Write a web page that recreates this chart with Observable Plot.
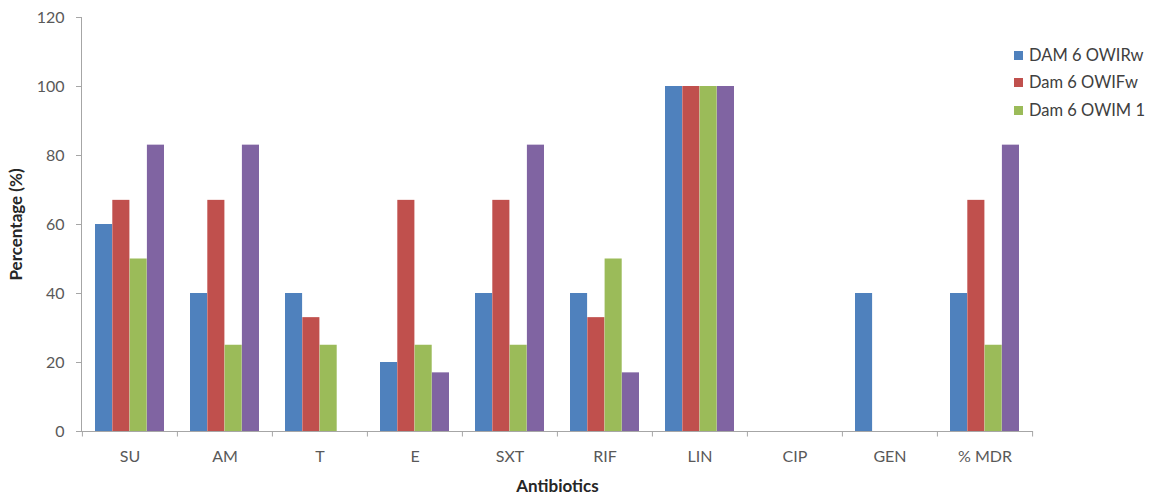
<!DOCTYPE html>
<html>
<head>
<meta charset="utf-8">
<script src="https://cdn.jsdelivr.net/npm/d3@7"></script>
<script src="https://cdn.jsdelivr.net/npm/@observablehq/plot@0.6"></script>
<style>
  html, body { margin: 0; padding: 0; background: #fff; }
  #wrap { position: relative; width: 1155px; height: 496px; font-family: Lato, "Open Sans", sans-serif; }
  #legend { position: absolute; left: 1014px; top: 45px; font-size: 16.5px; color: #404040; }
  .row { position: absolute; left: 0; white-space: nowrap; display: flex; align-items: center; height: 20px; }
  .sw { display: inline-block; width: 9px; height: 9px; margin-right: 6px; }
  svg text { font-family: Lato, "Open Sans", sans-serif; }
</style>
</head>
<body>
<div id="wrap"><div id="legend"></div></div>
<script>
const categories = ["SU", "AM", "T", "E", "SXT", "RIF", "LIN", "CIP", "GEN", "% MDR"];
const seriesNames = ["DAM 6 OWIRw", "Dam 6 OWIFw", "Dam 6 OWIM 1", "Series 4"];
const seriesColors = ["#4F81BD", "#C0504D", "#9BBB59", "#8064A2"];
const s1 = [60, 40, 40, 20, 40, 40, 100, 0, 40, 40];
const s2 = [67, 67, 33, 67, 67, 33, 100, 0, 0, 67];
const s3 = [50, 25, 25, 25, 25, 50, 100, 0, 0, 25];
const s4 = [83, 83, 0, 17, 83, 17, 100, 0, 0, 83];
const yTicks = [0, 20, 40, 60, 80, 100, 120];

const seriesValues = [s1, s2, s3, s4];
const W = 1155, H = 496, mL = 81, mR = 122, mT = 17, mB = 65;
const step = (W - mL - mR) / categories.length;
const gap = 13, barW = (step - 2 * gap) / 4;

const marks = [];
seriesValues.forEach((vals, i) => {
  const data = categories.map((c, j) => ({cat: c, v: vals[j]}));
  marks.push(Plot.barY(data, {
    x: "cat", y: "v", fill: seriesColors[i],
    insetLeft: gap + i * barW, insetRight: step - gap - (i + 1) * barW
  }));
});
// category boundary ticks
marks.push(Plot.ruleX(categories, {x: d => d, dx: -step / 2, y1: 0, y2: -1.6, stroke: "#a6a6a6"}));
marks.push(Plot.ruleX([categories[categories.length - 1]], {x: d => d, dx: step / 2, y1: 0, y2: -1.6, stroke: "#a6a6a6"}));
marks.push(Plot.ruleY([0], {stroke: "#a6a6a6"}));
marks.push(Plot.frame({anchor: "left", stroke: "#a6a6a6"}));
marks.push(Plot.axisY({ticks: yTicks, tickSize: 5, tickPadding: 12, fontSize: 16, color: "#595959", stroke: "#a6a6a6",
  label: "Percentage (%)", labelAnchor: "center", labelOffset: 72, labelArrow: false}));
marks.push(Plot.axisX({tickSize: 0, tickPadding: 19, fontSize: 16, color: "#595959",
  label: "Antibiotics", labelAnchor: "center", labelOffset: 60, labelArrow: false}));

const chart = Plot.plot({
  width: W, height: H,
  marginLeft: mL, marginRight: mR, marginTop: mT, marginBottom: mB,
  x: {domain: categories, padding: 0},
  y: {domain: [0, 120]},
  marks
});
chart.style.overflow = "visible";
document.getElementById("wrap").prepend(chart);

// bold axis titles
chart.querySelectorAll('g[aria-label="y-axis label"] text, g[aria-label="x-axis label"] text').forEach(t => {
  t.setAttribute("font-weight", "bold");
  t.setAttribute("fill", "#262626");
  t.setAttribute("font-size", "17");
});

// legend: only the first three series are labelled in the original
const legend = document.getElementById("legend");
const rowTops = [0, 27, 55];
seriesNames.slice(0, 3).forEach((n, i) => {
  const row = document.createElement("div");
  row.className = "row";
  row.style.top = rowTops[i] + "px";
  const sw = document.createElement("span");
  sw.className = "sw";
  sw.style.background = seriesColors[i];
  row.appendChild(sw);
  row.appendChild(document.createTextNode(n));
  legend.appendChild(row);
});
</script>
</body>
</html>
